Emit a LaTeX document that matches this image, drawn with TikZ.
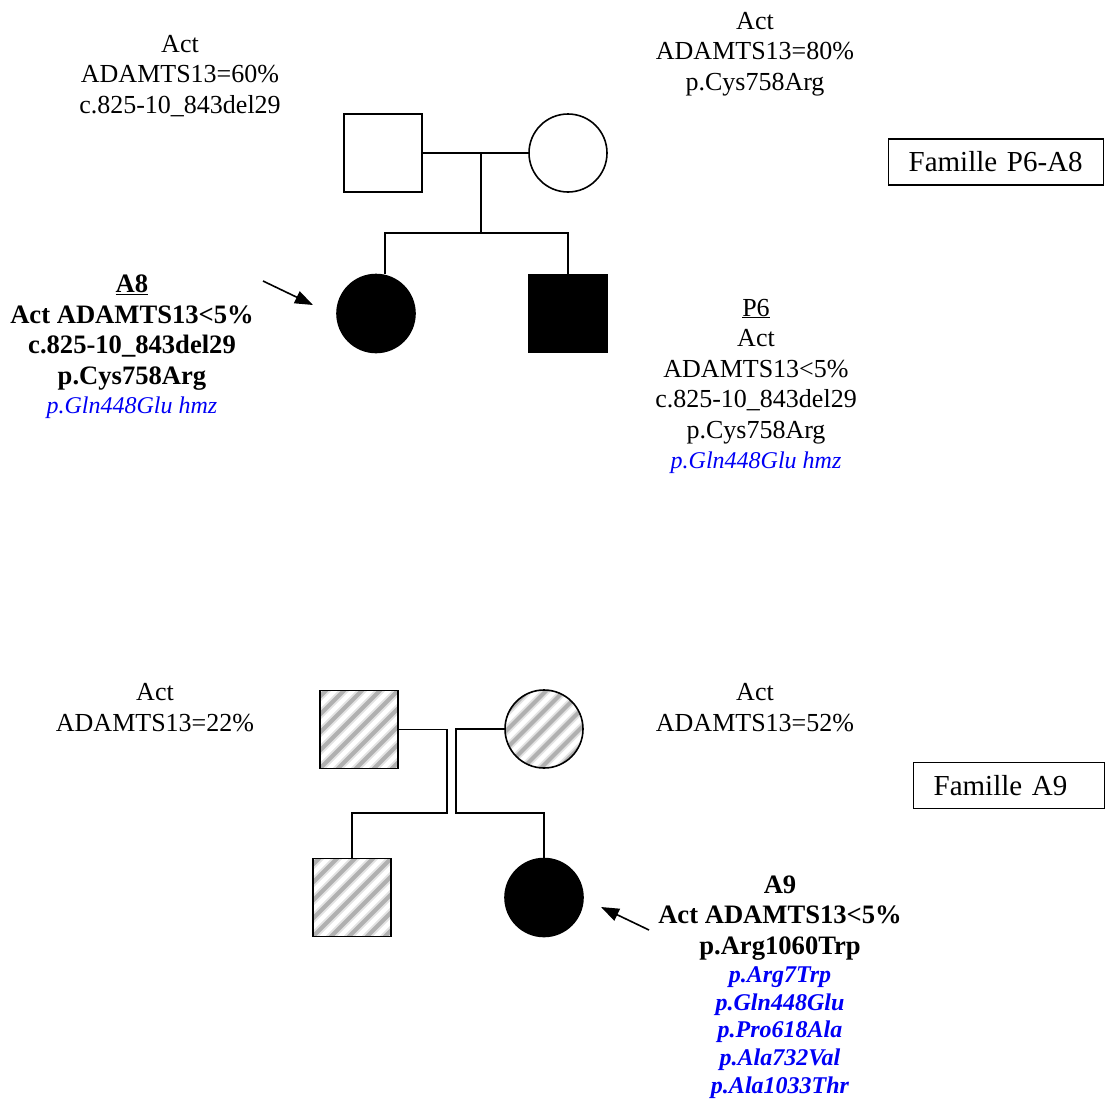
\documentclass[tikz,border=0pt]{standalone}
\usepackage{fontspec}
\setmainfont{Liberation Serif}
\usetikzlibrary{arrows.meta}
\definecolor{varblue}{RGB}{0,0,245}
\newcommand{\mainsize}{\fontsize{26}{30.5}\selectfont}
\newcommand{\boldsize}{\fontsize{26.6}{30.5}\selectfont}
\newcommand{\varsize}{\fontsize{24}{27.6}\selectfont}
\begin{document}
\begin{tikzpicture}[x=1pt,y=-1pt,
  person/.style={draw=black,line width=1.6pt,minimum size=78pt,inner sep=0pt},
  male/.style={person,rectangle},
  female/.style={person,circle},
  affected/.style={fill=black},
  hatchstroke/.style={line cap=butt},
  carrier/.style={path picture={
      \foreach \k in {-8,...,8}{
        \draw[hatchstroke,gray!22,line width=8pt]
          ([shift={(\k*18pt-70pt,-70pt)}]path picture bounding box.center) -- ++(140pt,140pt);
        \draw[hatchstroke,gray!62,line width=4pt]
          ([shift={(\k*18pt-70pt,-70pt)}]path picture bounding box.center) -- ++(140pt,140pt);
      }}},
  link/.style={line width=1.6pt},
  pointer/.style={line width=1.6pt,-{Triangle[length=18pt,width=13pt]}},
  % multi-line text blocks are placed by the baseline of their last line
  info/.style={align=center,inner sep=0pt,anchor=base,font=\mainsize},
  boldinfo/.style={info,font=\boldsize\bfseries},
  varinfo/.style={align=center,inner sep=0pt,anchor=base,font=\varsize\itshape,text=varblue},
  varboldinfo/.style={varinfo,font=\varsize\bfseries\itshape},
  famillebox/.style={draw=black,line width=1.3pt,anchor=west,align=left,
    inner xsep=20pt,inner ysep=0pt,minimum height=46pt,font=\fontsize{29}{33}\selectfont}
]
\useasboundingbox (0,0) rectangle (1105,1100);

% ---- Famille P6-A8 ----
\node[male]   (f1) at (383,153) {};
\node[female] (m1) at (568,153) {};
\node[female,affected] (a8) at (376,313.5) {};
\node[male,affected]   (p6) at (568,313.5) {};

\coordinate (u1) at (481,153);
\coordinate (sib1) at (481,233);
\coordinate (c1) at (385,233);
\draw[link] (f1.east) -- (m1.west);
\draw[link] (u1) -- (sib1);
\draw[link] (c1 |- a8.north) -- (c1) -- (c1 -| p6.north) -- (p6.north);

\coordinate (ar1s) at (263,281);
\coordinate (ar1e) at (313,305);
\draw[pointer] (ar1s) -- (ar1e);

\node[info] (tf1) at (180,113) {Act\\ADAMTS13=60\%\\c.825-10\_843del29};
\node[info] (tm1) at (755,90) {Act\\ADAMTS13=80\%\\p.Cys758Arg};
\node[boldinfo] (ta8) at (132,384) {\underline{A8}\\Act ADAMTS13<5\%\\c.825-10\_843del29\\p.Cys758Arg};
\node[varinfo] (va8) at (132,413) {p.Gln448Glu hmz};
\node[info] (tp6) at (756,438) {\underline{P6}\\Act\\ADAMTS13<5\%\\c.825-10\_843del29\\p.Cys758Arg};
\node[varinfo] (vp6) at (756,468) {p.Gln448Glu hmz};
\node[famillebox,text width=175pt] (fam1) at (888,162) {Famille P6-A8};

% ---- Famille A9 ----
\node[male,carrier]   (f2) at (359,729.5) {};
\node[female,carrier] (m2) at (544,729) {};
\node[male,carrier]   (s2) at (352,897.5) {};
\node[female,affected] (a9) at (544,897.5) {};

\coordinate (j1) at (447,813);
\coordinate (j2) at (456,813);
\draw[link] (f2.east) -| (j1) -| (s2.north);
\draw[link] (m2.west) -| (j2) -| (a9.north);

\coordinate (ar2s) at (649,930);
\coordinate (ar2e) at (601,907);
\draw[pointer] (ar2s) -- (ar2e);

\node[info] (tf2) at (155,731) {Act\\ADAMTS13=22\%};
\node[info] (tm2) at (755,731) {Act\\ADAMTS13=52\%};
\node[boldinfo] (ta9) at (780,954) {A9\\Act ADAMTS13<5\%\\p.Arg1060Trp};
\node[varboldinfo] (va9) at (780,1093) {p.Arg7Trp\\p.Gln448Glu\\p.Pro618Ala\\p.Ala732Val\\p.Ala1033Thr};
\node[famillebox,text width=151pt] (fam2) at (913,785.5) {Famille A9};
\end{tikzpicture}
\end{document}
